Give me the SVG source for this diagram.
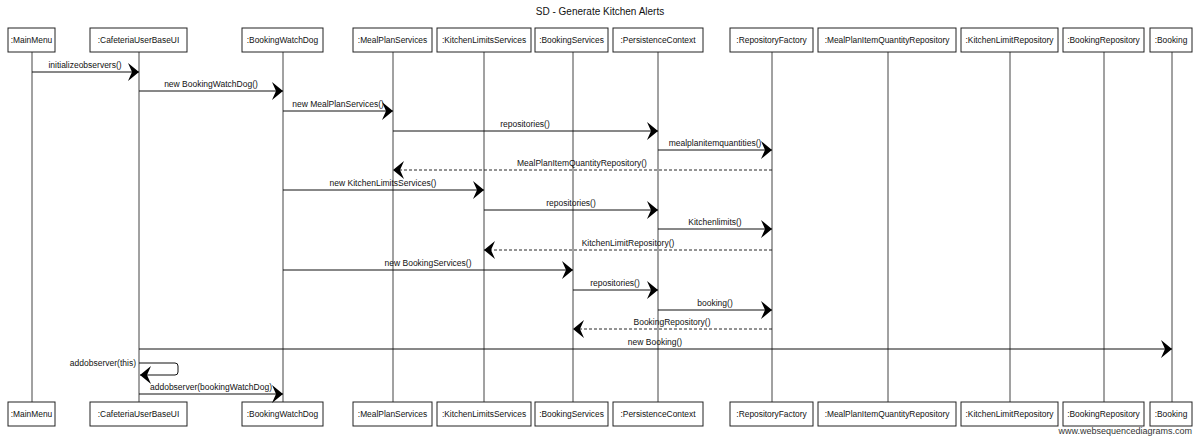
<svg xmlns="http://www.w3.org/2000/svg" width="1200" height="439" viewBox="0 0 1200 439">
<style>
text{font-family:"Liberation Sans",Arial,sans-serif;fill:#111}
.lbl{font-size:8.4px;text-anchor:middle}
.msg{font-size:8.5px;text-anchor:middle}
.box{fill:#fff;stroke:#222;stroke-width:1}
.life{stroke:#444;stroke-width:1;fill:none}
.m{stroke:#111;stroke-width:1;fill:none;marker-end:url(#ah)}
.r{stroke:#111;stroke-width:0.9;fill:none;stroke-dasharray:3,2;marker-end:url(#ah)}
</style>
<defs>
<marker id="ah" markerUnits="userSpaceOnUse" viewBox="-12 -10 13 20" refX="0" refY="0" markerWidth="13" markerHeight="20" orient="auto">
<path d="M0,0 L-11,-9 L-7,0 L-11,9 Z" fill="#000"/>
</marker>
</defs>
<rect width="1200" height="439" fill="#fff"/>
<text x="600" y="15" style="font-size:10px;text-anchor:middle">SD - Generate Kitchen Alerts</text>

<g id="lifelines">
<line class="life" x1="32" y1="52" x2="32" y2="402"/>
<line class="life" x1="139" y1="52" x2="139" y2="402"/>
<line class="life" x1="283" y1="52" x2="283" y2="402"/>
<line class="life" x1="393" y1="52" x2="393" y2="402"/>
<line class="life" x1="484" y1="52" x2="484" y2="402"/>
<line class="life" x1="573" y1="52" x2="573" y2="402"/>
<line class="life" x1="658" y1="52" x2="658" y2="402"/>
<line class="life" x1="772" y1="52" x2="772" y2="402"/>
<line class="life" x1="888" y1="52" x2="888" y2="402"/>
<line class="life" x1="1010" y1="52" x2="1010" y2="402"/>
<line class="life" x1="1104" y1="52" x2="1104" y2="402"/>
<line class="life" x1="1172" y1="52" x2="1172" y2="402"/>
</g>

<g id="MainMenu">
<rect class="box" x="8" y="28" width="47" height="24"/><text class="lbl" x="31.5" y="43">:MainMenu</text>
<rect class="box" x="8" y="402" width="47" height="24"/><text class="lbl" x="31.5" y="417">:MainMenu</text>
</g>
<g id="CafeteriaUserBaseUI">
<rect class="box" x="90" y="28" width="97" height="24"/><text class="lbl" x="138.5" y="43">:CafeteriaUserBaseUI</text>
<rect class="box" x="90" y="402" width="97" height="24"/><text class="lbl" x="138.5" y="417">:CafeteriaUserBaseUI</text>
</g>
<g id="BookingWatchDog">
<rect class="box" x="242" y="28" width="81" height="24"/><text class="lbl" x="282.5" y="43">:BookingWatchDog</text>
<rect class="box" x="242" y="402" width="81" height="24"/><text class="lbl" x="282.5" y="417">:BookingWatchDog</text>
</g>
<g id="MealPlanServices">
<rect class="box" x="353" y="28" width="79" height="24"/><text class="lbl" x="392.5" y="43">:MealPlanServices</text>
<rect class="box" x="353" y="402" width="79" height="24"/><text class="lbl" x="392.5" y="417">:MealPlanServices</text>
</g>
<g id="KitchenLimitsServices">
<rect class="box" x="437" y="28" width="94" height="24"/><text class="lbl" x="484" y="43">:KitchenLimitsServices</text>
<rect class="box" x="437" y="402" width="94" height="24"/><text class="lbl" x="484" y="417">:KitchenLimitsServices</text>
</g>
<g id="BookingServices">
<rect class="box" x="535" y="28" width="73" height="24"/><text class="lbl" x="571.5" y="43">:BookingServices</text>
<rect class="box" x="535" y="402" width="73" height="24"/><text class="lbl" x="571.5" y="417">:BookingServices</text>
</g>
<g id="PersistenceContext">
<rect class="box" x="613" y="28" width="90" height="24"/><text class="lbl" x="658" y="43">:PersistenceContext</text>
<rect class="box" x="613" y="402" width="90" height="24"/><text class="lbl" x="658" y="417">:PersistenceContext</text>
</g>
<g id="RepositoryFactory">
<rect class="box" x="730" y="28" width="83" height="24"/><text class="lbl" x="771.5" y="43">:RepositoryFactory</text>
<rect class="box" x="730" y="402" width="83" height="24"/><text class="lbl" x="771.5" y="417">:RepositoryFactory</text>
</g>
<g id="MealPlanItemQuantityRepository">
<rect class="box" x="818" y="28" width="138" height="24"/><text class="lbl" x="887" y="43">:MealPlanItemQuantityRepository</text>
<rect class="box" x="818" y="402" width="138" height="24"/><text class="lbl" x="887" y="417">:MealPlanItemQuantityRepository</text>
</g>
<g id="KitchenLimitRepository">
<rect class="box" x="961" y="28" width="97" height="24"/><text class="lbl" x="1009.5" y="43">:KitchenLimitRepository</text>
<rect class="box" x="961" y="402" width="97" height="24"/><text class="lbl" x="1009.5" y="417">:KitchenLimitRepository</text>
</g>
<g id="BookingRepository">
<rect class="box" x="1063" y="28" width="81" height="24"/><text class="lbl" x="1103.5" y="43">:BookingRepository</text>
<rect class="box" x="1063" y="402" width="81" height="24"/><text class="lbl" x="1103.5" y="417">:BookingRepository</text>
</g>
<g id="Booking">
<rect class="box" x="1150" y="28" width="42" height="24"/><text class="lbl" x="1171" y="43">:Booking</text>
<rect class="box" x="1150" y="402" width="42" height="24"/><text class="lbl" x="1171" y="417">:Booking</text>
</g>

<g id="connectors">
<line class="m" x1="32" y1="72" x2="139" y2="72"/><text class="msg" x="85" y="68">initializeobservers()</text>
<line class="m" x1="139" y1="91" x2="283" y2="91"/><text class="msg" x="211" y="87">new BookingWatchDog()</text>
<line class="m" x1="283" y1="111" x2="393" y2="111"/><text class="msg" x="338" y="107">new MealPlanServices()</text>
<line class="m" x1="393" y1="131" x2="658" y2="131"/><text class="msg" x="525" y="127">repositories()</text>
<line class="m" x1="658" y1="150" x2="772" y2="150"/><text class="msg" x="715" y="146">mealplanitemquantities()</text>
<line class="r" x1="772" y1="170" x2="393" y2="170"/><text class="msg" x="582" y="166">MealPlanItemQuantityRepository()</text>
<line class="m" x1="283" y1="190" x2="484" y2="190"/><text class="msg" x="383" y="186">new KitchenLimitsServices()</text>
<line class="m" x1="484" y1="210" x2="658" y2="210"/><text class="msg" x="571" y="206">repositories()</text>
<line class="m" x1="658" y1="229" x2="772" y2="229"/><text class="msg" x="715" y="225">Kitchenlimits()</text>
<line class="r" x1="772" y1="250" x2="484" y2="250"/><text class="msg" x="628" y="246">KitchenLimitRepository()</text>
<line class="m" x1="283" y1="270" x2="573" y2="270"/><text class="msg" x="428" y="266">new BookingServices()</text>
<line class="m" x1="573" y1="290" x2="658" y2="290"/><text class="msg" x="615" y="286">repositories()</text>
<line class="m" x1="658" y1="310" x2="772" y2="310"/><text class="msg" x="715" y="306">booking()</text>
<line class="r" x1="772" y1="329" x2="573" y2="329"/><text class="msg" x="672" y="325">BookingRepository()</text>
<line class="m" x1="139" y1="349" x2="1172" y2="349"/><text class="msg" x="655" y="345">new Booking()</text>
<path class="m" d="M139,363 L175,363 Q178,363 178,366 L178,372 Q178,375 175,375 L140,375"/><text class="msg" x="136" y="366" style="text-anchor:end">addobserver(this)</text>
<line class="m" x1="139" y1="394" x2="283" y2="394"/><text class="msg" x="211" y="390">addobserver(bookingWatchDog)</text>
</g>
<text x="1192" y="434" style="font-size:9px;text-anchor:end;fill:#333">www.websequencediagrams.com</text>
</svg>
